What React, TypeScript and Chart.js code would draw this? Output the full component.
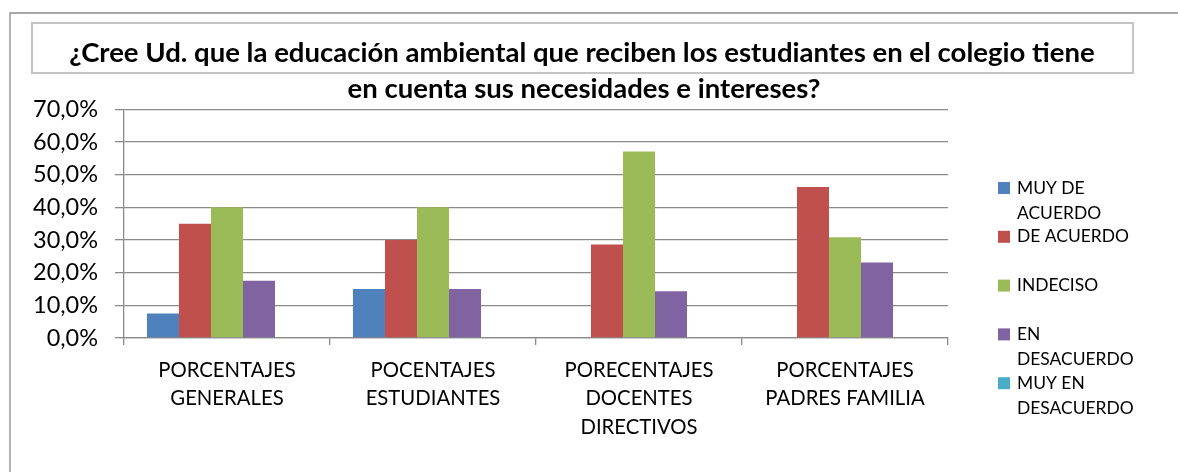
import React, { useEffect, useRef } from "react";
import { Chart, registerables } from "chart.js";

Chart.register(...registerables);

// ---- data ----
const categories: string[][] = [
  ["PORCENTAJES", "GENERALES"],
  ["POCENTAJES", "ESTUDIANTES"],
  ["PORECENTAJES", "DOCENTES", "DIRECTIVOS"],
  ["PORCENTAJES", "PADRES FAMILIA"],
];
const seriesNames = ["MUY DE ACUERDO", "DE ACUERDO", "INDECISO", "EN DESACUERDO", "MUY EN DESACUERDO"];
const muyDeAcuerdo = [7.5, 15, 0, 0];
const deAcuerdo = [35, 30, 28.6, 46.2];
const indeciso = [40, 40, 57.1, 30.8];
const enDesacuerdo = [17.5, 15, 14.3, 23.1];
const muyEnDesacuerdo = [0, 0, 0, 0];
const seriesColors = ["#4F81BD", "#C0504D", "#9BBB59", "#8064A2", "#4BACC6"];
const yTicks = [0, 10, 20, 30, 40, 50, 60, 70];
const titleLines = [
  "¿Cree Ud. que la educación ambiental que reciben los estudiantes en el colegio tiene",
  "en cuenta sus necesidades e intereses?",
];

// ---- style ----
const FONT = "Lato";
const GRID = "#8a8a8a";
const W = 1178;
const H = 472;

function fitSize(text: string, weight: string, target: number): number {
  const c = document.createElement("canvas").getContext("2d")!;
  c.font = `${weight} 100px ${FONT}`;
  return (100 * target) / c.measureText(text).width;
}

function wrap(ctx: CanvasRenderingContext2D, text: string, maxW: number): string[] {
  const words = text.split(" ");
  const lines: string[] = [];
  let cur = "";
  for (const w of words) {
    const t = cur ? cur + " " + w : w;
    if (cur && ctx.measureText(t).width > maxW) {
      lines.push(cur);
      cur = w;
    } else cur = t;
  }
  if (cur) lines.push(cur);
  return lines;
}

export default function App() {
  const ref = useRef<HTMLCanvasElement>(null);

  useEffect(() => {
    if (!ref.current) return;
    const titleSize = fitSize(titleLines[0], "bold", 1026);
    const xSize = fitSize("PORECENTAJES", "normal", 149);
    const ySize = fitSize("70,0%", "normal", 65);
    const legendSize = fitSize("DESACUERDO", "normal", 116.7);

    const decor = {
      id: "decor",
      beforeDraw(chart: any) {
        const ctx: CanvasRenderingContext2D = chart.ctx;
        ctx.save();
        ctx.fillStyle = "#fff";
        ctx.fillRect(0, 0, chart.width, chart.height);
        ctx.strokeStyle = GRID;
        ctx.lineWidth = 1.3;
        ctx.beginPath();
        ctx.moveTo(10, chart.height);
        ctx.lineTo(10, 13);
        ctx.lineTo(chart.width, 13);
        ctx.stroke();
        ctx.strokeStyle = "#c4c4c4";
        ctx.lineWidth = 2;
        ctx.strokeRect(32, 23, 1101, 50);
        ctx.restore();
      },
      afterDraw(chart: any) {
        const ctx: CanvasRenderingContext2D = chart.ctx;
        ctx.save();
        ctx.fillStyle = "#000";
        ctx.textAlign = "center";
        ctx.textBaseline = "alphabetic";
        ctx.font = `bold ${titleSize}px ${FONT}`;
        ctx.fillText(titleLines[0], 582, 61.5);
        ctx.fillText(titleLines[1], 584, 97.5);

        ctx.font = `normal ${legendSize}px ${FONT}`;
        ctx.textAlign = "left";
        ctx.textBaseline = "middle";
        seriesNames.forEach((name, i) => {
          const y0 = 188 + i * 48.8;
          ctx.fillStyle = seriesColors[i];
          ctx.fillRect(998, y0 - 6, 12, 12);
          ctx.fillStyle = "#000";
          wrap(ctx, name, 136).forEach((ln, j) => {
            ctx.fillText(ln, 1017, y0 + j * 25);
          });
        });
        ctx.restore();
      },
    };

    const values = [muyDeAcuerdo, deAcuerdo, indeciso, enDesacuerdo, muyEnDesacuerdo];

    const chart = new Chart(ref.current, {
      type: "bar",
      data: {
        labels: categories as any,
        datasets: seriesNames.map((name, i) => ({
          label: name,
          data: values[i],
          backgroundColor: seriesColors[i],
          borderWidth: 0,
          categoryPercentage: 0.777,
          barPercentage: 1,
        })),
      },
      options: {
        animation: false,
        responsive: false,
        layout: { padding: { left: 0, top: 109.3, right: W - 948, bottom: 0 } },
        plugins: {
          legend: { display: false },
          title: { display: false },
          tooltip: { enabled: false },
        },
        scales: {
          x: {
            grid: {
              display: true,
              drawOnChartArea: false,
              drawTicks: true,
              tickLength: 7,
              color: GRID,
              lineWidth: 1.3,
              offset: true,
            },
            border: { display: true, color: GRID, width: 1.3 },
            ticks: {
              color: "#000",
              font: { family: FONT, size: xSize, lineHeight: 28.5 / xSize },
              padding: 10.75,
              maxRotation: 0,
              minRotation: 0,
              autoSkip: false,
            },
            afterFit: (s: any) => {
              s.height = H - 338;
            },
          },
          y: {
            min: 0,
            max: 70,
            grid: { color: GRID, lineWidth: 1.3, tickLength: 9, drawTicks: true },
            border: { display: true, color: GRID, width: 1.3 },
            ticks: {
              color: "#000",
              font: { family: FONT, size: ySize },
              padding: 17,
              callback: (v: any) => Number(v).toFixed(1).replace(".", ",") + "%",
            },
            afterBuildTicks: (s: any) => {
              s.ticks = yTicks.map((v) => ({ value: v }));
            },
            afterFit: (s: any) => {
              s.width = 124;
            },
          },
        },
      },
      plugins: [decor],
    });
    return () => chart.destroy();
  }, []);

  return (
    <div style={{ position: "absolute", left: 0, top: 0, width: W, height: H }}>
      <canvas ref={ref} width={W} height={H} style={{ display: "block" }} />
    </div>
  );
}
